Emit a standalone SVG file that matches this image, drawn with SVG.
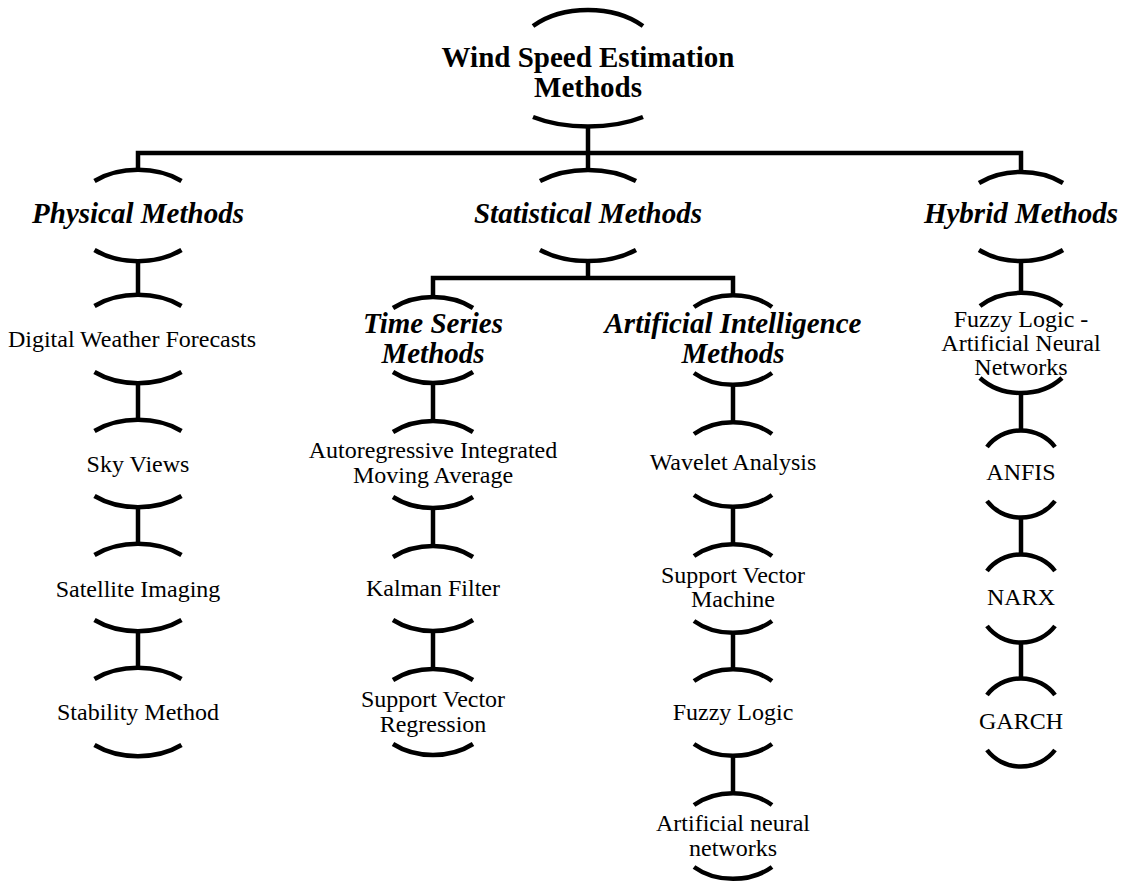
<svg xmlns="http://www.w3.org/2000/svg" width="1129" height="882" viewBox="0 0 1129 882">
<style>
.ln{fill:none;stroke:#000;stroke-width:4.5;stroke-linecap:butt;stroke-linejoin:miter}
.t{font-family:"Liberation Serif","Times New Roman",serif;font-size:24px;text-anchor:middle;fill:#000}
.h{font-weight:bold;font-style:italic;font-size:29px}
.r{font-weight:bold;font-size:29px}
</style>
<rect width="1129" height="882" fill="#fff"/>
<g id="connectors" class="ln">
<path d="M588 126 V171"/>
<path d="M138 171 V153 H1021 V173"/>
<path d="M138 260 V296"/>
<path d="M138 382 V421"/>
<path d="M138 507 V545"/>
<path d="M138 631 V669"/>
<path d="M588 260 V278"/>
<path d="M433 298 V278 H733 V296"/>
<path d="M433 383 V421"/>
<path d="M433 508 V546"/>
<path d="M433 631 V669"/>
<path d="M733 384 V422"/>
<path d="M733 506 V544"/>
<path d="M733 632 V669"/>
<path d="M733 755 V793"/>
<path d="M1021 260 V294"/>
<path d="M1021 392 V431"/>
<path d="M1021 516 V555"/>
<path d="M1021 641 V679"/>
</g>
<g id="root">
<path class="ln" d="M533 26 A75 50 0 0 1 643 26"/>
<path class="ln" d="M533 117 A85 40 0 0 0 643 117"/>
<text class="t r" x="588" y="67">Wind Speed Estimation</text>
<text class="t r" x="588" y="97">Methods</text>
</g>
<g id="physical">
<path class="ln" d="M94.5 181 A66 45 0 0 1 181.5 181"/>
<path class="ln" d="M94.5 250 A66 45 0 0 0 181.5 250"/>
<text class="t h" x="138" y="223">Physical Methods</text>
</g>
<g id="statistical">
<path class="ln" d="M540 181 A73 45 0 0 1 636 181"/>
<path class="ln" d="M540 250 A73 45 0 0 0 636 250"/>
<text class="t h" x="588" y="223">Statistical Methods</text>
</g>
<g id="hybrid">
<path class="ln" d="M979 183 A64 45 0 0 1 1063 183"/>
<path class="ln" d="M979 250 A64 45 0 0 0 1063 250"/>
<text class="t h" x="1021" y="223">Hybrid Methods</text>
</g>
<g id="digital">
<path class="ln" d="M94.5 306 A66 45 0 0 1 181.5 306"/>
<path class="ln" d="M94.5 372 A66 45 0 0 0 181.5 372"/>
<text class="t" x="132" y="347">Digital Weather Forecasts</text>
</g>
<g id="sky">
<path class="ln" d="M94.5 431 A66 45 0 0 1 181.5 431"/>
<path class="ln" d="M94.5 496 A66 45 0 0 0 181.5 496"/>
<text class="t" x="138" y="472">Sky Views</text>
</g>
<g id="satellite">
<path class="ln" d="M94.5 555 A66 45 0 0 1 181.5 555"/>
<path class="ln" d="M94.5 620 A66 45 0 0 0 181.5 620"/>
<text class="t" x="138" y="597">Satellite Imaging</text>
</g>
<g id="stability">
<path class="ln" d="M94.5 679 A66 45 0 0 1 181.5 679"/>
<path class="ln" d="M94.5 745 A66 45 0 0 0 181.5 745"/>
<text class="t" x="138" y="720">Stability Method</text>
</g>
<g id="timeseries">
<path class="ln" d="M393 308 A60 43 0 0 1 473 308"/>
<path class="ln" d="M393 372 A60 43 0 0 0 473 372"/>
<text class="t h" x="433" y="333">Time Series</text>
<text class="t h" x="433" y="363">Methods</text>
</g>
<g id="arima">
<path class="ln" d="M393 432 A60 43 0 0 1 473 432"/>
<path class="ln" d="M393 497 A60 43 0 0 0 473 497"/>
<text class="t" x="433" y="458">Autoregressive Integrated</text>
<text class="t" x="433" y="483">Moving Average</text>
</g>
<g id="kalman">
<path class="ln" d="M393 557 A60 43 0 0 1 473 557"/>
<path class="ln" d="M393 620 A60 43 0 0 0 473 620"/>
<text class="t" x="433" y="596">Kalman Filter</text>
</g>
<g id="svr">
<path class="ln" d="M393 680 A60 43 0 0 1 473 680"/>
<path class="ln" d="M393 744 A60 43 0 0 0 473 744"/>
<text class="t" x="433" y="707">Support Vector</text>
<text class="t" x="433" y="732">Regression</text>
</g>
<g id="ai">
<path class="ln" d="M694 307 A56 42 0 0 1 772 307"/>
<path class="ln" d="M694 373 A56 42 0 0 0 772 373"/>
<text class="t h" x="733" y="333">Artificial Intelligence</text>
<text class="t h" x="733" y="363">Methods</text>
</g>
<g id="wavelet">
<path class="ln" d="M694 434 A56 42 0 0 1 772 434"/>
<path class="ln" d="M694 495 A56 42 0 0 0 772 495"/>
<text class="t" x="733" y="470">Wavelet Analysis</text>
</g>
<g id="svm">
<path class="ln" d="M694 556 A56 42 0 0 1 772 556"/>
<path class="ln" d="M694 621 A56 42 0 0 0 772 621"/>
<text class="t" x="733" y="583">Support Vector</text>
<text class="t" x="733" y="607">Machine</text>
</g>
<g id="fuzzy">
<path class="ln" d="M694 681 A56 42 0 0 1 772 681"/>
<path class="ln" d="M694 744 A56 42 0 0 0 772 744"/>
<text class="t" x="733" y="720">Fuzzy Logic</text>
</g>
<g id="ann">
<path class="ln" d="M694 805 A56 42 0 0 1 772 805"/>
<path class="ln" d="M694 867 A56 42 0 0 0 772 867"/>
<text class="t" x="733" y="831">Artificial neural</text>
<text class="t" x="733" y="856">networks</text>
</g>
<g id="flann">
<path class="ln" d="M980 306 A58 45 0 0 1 1062 306"/>
<path class="ln" d="M980 378 A55 45 0 0 0 1062 378"/>
<text class="t" x="1021" y="327">Fuzzy Logic -</text>
<text class="t" x="1021" y="351">Artificial Neural</text>
<text class="t" x="1021" y="375">Networks</text>
</g>
<g id="anfis">
<path class="ln" d="M987 447 A42 40 0 0 1 1055 447"/>
<path class="ln" d="M987 501 A42 40 0 0 0 1055 501"/>
<text class="t" x="1021" y="480">ANFIS</text>
</g>
<g id="narx">
<path class="ln" d="M987 571 A42 40 0 0 1 1055 571"/>
<path class="ln" d="M987 626 A42 40 0 0 0 1055 626"/>
<text class="t" x="1021" y="605">NARX</text>
</g>
<g id="garch">
<path class="ln" d="M987 695 A42 40 0 0 1 1055 695"/>
<path class="ln" d="M987 750 A42 40 0 0 0 1055 750"/>
<text class="t" x="1021" y="729">GARCH</text>
</g>
</svg>
